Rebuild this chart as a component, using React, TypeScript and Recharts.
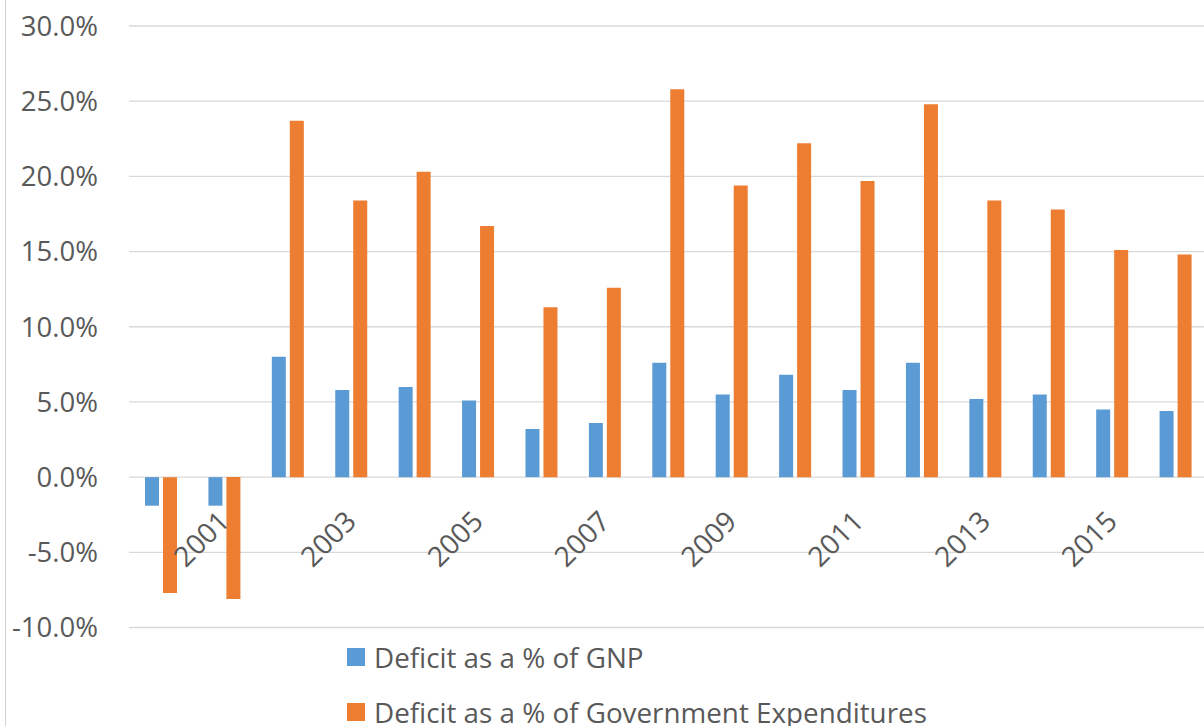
import { BarChart, Bar, XAxis, YAxis, CartesianGrid, Legend } from 'recharts';

const years = [
  '2000', '2001', '2002', '2003', '2004', '2005', '2006', '2007', '2008',
  '2009', '2010', '2011', '2012', '2013', '2014', '2015', '2016',
];
const gnpDeficit = [-1.9, -1.9, 8.0, 5.8, 6.0, 5.1, 3.2, 3.6, 7.6, 5.5, 6.8, 5.8, 7.6, 5.2, 5.5, 4.5, 4.4];
const spendingDeficit = [-7.7, -8.1, 23.7, 18.4, 20.3, 16.7, 11.3, 12.6, 25.8, 19.4, 22.2, 19.7, 24.8, 18.4, 17.8, 15.1, 14.8];
const yTicks = [-10, -5, 0, 5, 10, 15, 20, 25, 30];

const series = [
  { key: 'gnp', name: 'Deficit as a % of GNP', color: '#5B9BD5' },
  { key: 'spending', name: 'Deficit as a % of Government Expenditures', color: '#ED7D31' },
];

const data = years.map((year, i) => ({
  year,
  gnp: gnpDeficit[i],
  spending: spendingDeficit[i],
}));

const FONT = '"Open Sans", "Liberation Sans", sans-serif';
const TEXT = '#595959';
const GRID = '#D9D9D9';

const CHART_W = 1207;
const CHART_H = 726;
const TOP = 26;
const PLOT_BOTTOM = 627.5;
const Y_MIN = yTicks[0];
const Y_MAX = yTicks[yTicks.length - 1];
// the category labels hang off the 0% line, not the bottom of the plot
const ZERO_Y = TOP + ((Y_MAX - 0) / (Y_MAX - Y_MIN)) * (PLOT_BOTTOM - TOP);

function YearTick(props: any) {
  const { x, payload } = props;
  if (Number(payload.value) % 2 === 0) return null;
  const tx = x + 7;
  const ty = ZERO_Y + 46;
  return (
    <text
      x={tx}
      y={ty}
      transform={`rotate(-45, ${tx}, ${ty})`}
      textAnchor="end"
      fill={TEXT}
      fontSize={28}
      fontFamily={FONT}
    >
      {payload.value}
    </text>
  );
}

function LegendRows() {
  return (
    <div style={{ paddingLeft: 347, paddingTop: 1, fontFamily: FONT, fontSize: 27.8, color: TEXT }}>
      {series.map((s) => (
        <div key={s.key} style={{ display: 'flex', alignItems: 'center', height: 55, whiteSpace: 'nowrap' }}>
          <span style={{ width: 18, height: 18, background: s.color, marginRight: 9, display: 'inline-block' }} />
          {s.name}
        </div>
      ))}
    </div>
  );
}

export default function App() {
  return (
    <div
      style={{
        position: 'absolute',
        left: 0,
        top: 0,
        width: 1204,
        height: 726,
        overflow: 'hidden',
        background: '#fff',
      }}
    >
      <div style={{ position: 'absolute', left: 5, top: 0, width: 1, height: 726, background: '#D0D0D0' }} />
      <BarChart
        width={CHART_W}
        height={CHART_H}
        data={data}
        margin={{ top: TOP, right: 0, left: 0, bottom: 0 }}
        barSize={14}
        barGap={4}
      >
        <CartesianGrid vertical={false} stroke={GRID} strokeWidth={1.3} />
        <XAxis
          dataKey="year"
          height={1}
          axisLine={false}
          tickLine={false}
          interval={0}
          tick={<YearTick />}
        />
        <YAxis
          width={129}
          domain={[Y_MIN, Y_MAX]}
          ticks={yTicks}
          axisLine={false}
          tickLine={false}
          tickMargin={25}
          tickFormatter={(v: number) => `${v.toFixed(1)}%`}
          tick={{ fill: TEXT, fontSize: 27.5, fontFamily: FONT }}
        />
        <Legend
          verticalAlign="bottom"
          align="left"
          content={<LegendRows />}
          wrapperStyle={{ height: 97.5, overflow: 'visible' }}
        />
        {series.map((s) => (
          <Bar key={s.key} dataKey={s.key} name={s.name} fill={s.color} isAnimationActive={false} />
        ))}
      </BarChart>
    </div>
  );
}
